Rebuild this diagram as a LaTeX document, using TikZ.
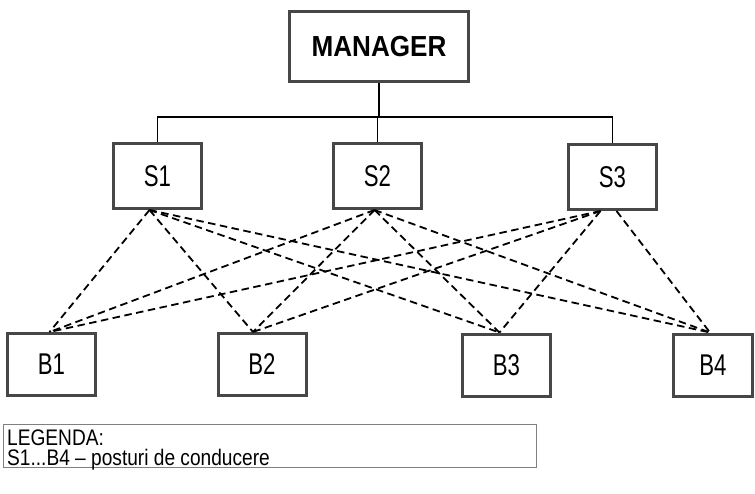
\documentclass[tikz,border=0pt]{standalone}
\usepackage{fontspec}
\setmainfont{Liberation Sans}
\newfontfamily\boxfont[FakeStretch=0.74]{Liberation Sans}
\newfontfamily\mgrfont[FakeStretch=0.9]{Liberation Sans}
\newfontfamily\legfont[FakeStretch=0.85]{Liberation Sans}
\begin{document}
\begin{tikzpicture}[x=1pt,y=-1pt,
  box/.style={draw=black!72, line width=3pt, fill=white, inner sep=0pt,
    minimum width=88pt, minimum height=65pt,
    font=\boxfont\fontsize{30}{32}\selectfont},
  mgr/.style={box, minimum width=179pt, minimum height=70pt,
    font=\mgrfont\bfseries\fontsize{29}{31}\selectfont},
  tree/.style={draw=black, line width=1.5pt},
  dl/.style={draw=black, line width=1.8pt, dash pattern=on 7.5pt off 4.5pt},
  legbox/.style={draw=black!50, line width=0.8pt, anchor=north west,
    inner sep=0pt, minimum width=533pt, minimum height=43pt},
  legtext/.style={anchor=north west, align=left, inner sep=0pt,
    font=\legfont\fontsize{22.5}{19.5}\selectfont}]
\useasboundingbox[fill=white] (0,0) rectangle (755,493);
% nodes
\node[mgr] (M) at (379,46.5) {MANAGER};
\node[box] (S1) at (157.5,176) {S1};
\node[box] (S2) at (377.5,176) {S2};
\node[box] (S3) at (612.5,177) {S3};
\node[box, minimum height=62pt] (B1) at (51.5,364.5) {B1};
\node[box, minimum height=62pt] (B2) at (262,364.5) {B2};
\node[box, minimum height=62pt] (B3) at (506.5,365) {B3};
\node[box, minimum height=62pt, minimum width=79pt] (B4) at (713,365) {B4};
\coordinate (h) at (0,117);
% tree connectors
\draw[tree] (M.south) -- (M.south |- h);
\draw[tree] (S1.north) -- (S1.north |- h) -- (S3.north |- h) -- (S3.north);
\draw[tree] (S2.north) -- (S2.north |- h);
% dashed connectors
\foreach \s/\sx in {S1/-8,S2/-3,S3/-12}{
  \draw[dl] ([xshift=\sx pt]\s.south) -- ([xshift=-2pt]B1.north);
  \draw[dl] ([xshift=\sx pt]\s.south) -- ([xshift=-9pt]B2.north);
  \draw[dl] ([xshift=\sx pt]\s.south) -- ([xshift=-7pt]B3.north);
}
\draw[dl] ([xshift=-8pt]S1.south) -- ([xshift=-3pt]B4.north);
\draw[dl] ([xshift=-3pt]S2.south) -- ([xshift=-3pt]B4.north);
\draw[dl] ([xshift=4pt]S3.south) -- ([xshift=-3pt]B4.north);
% legend
\node[legbox] (L) at (3,424) {};
\node[legtext] (Lt) at (7,430) {LEGENDA:\\S1...B4 – posturi de conducere};
\end{tikzpicture}
\end{document}
